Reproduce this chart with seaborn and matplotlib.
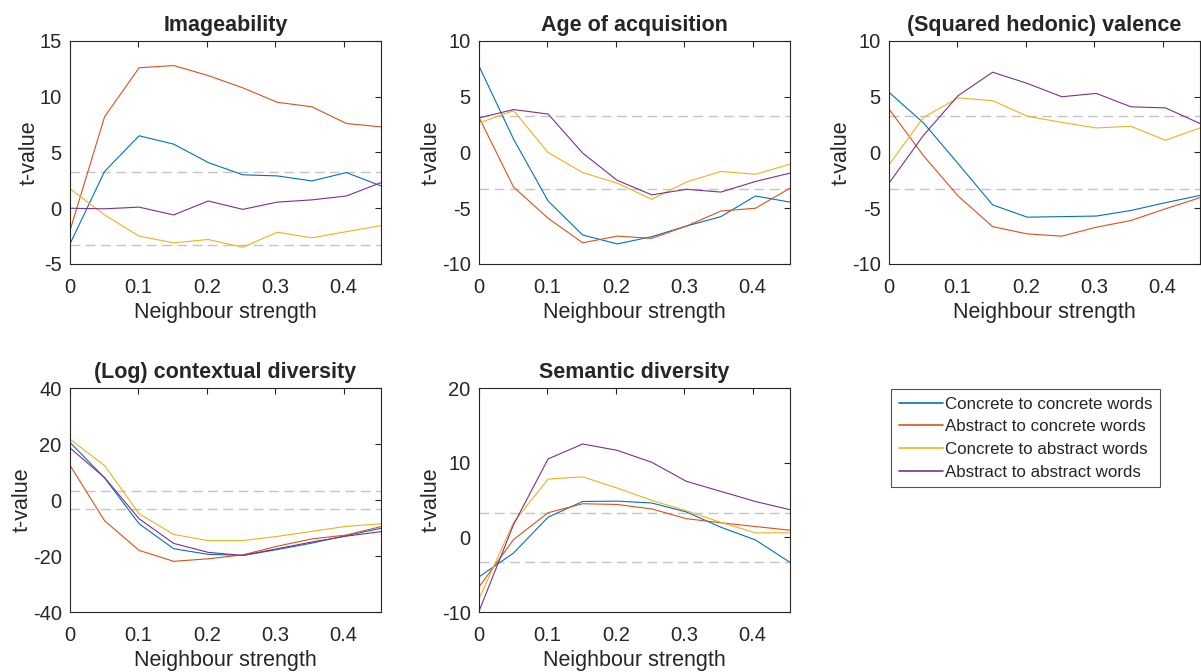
import numpy as np
import pandas as pd
import seaborn as sns
import matplotlib.pyplot as plt

# neighbour strength steps (10 points, last one at the right edge)
strength = np.arange(10) * 0.0505

series_names = ['Concrete to concrete words', 'Abstract to concrete words',
                'Concrete to abstract words', 'Abstract to abstract words']
colors = ['#0072BD', '#D95319', '#EDB120', '#7E2F8E']

imageability = {
    'Concrete to concrete words': [-3.2, 3.3, 6.5, 5.75, 4.1, 3.0, 2.9, 2.45, 3.2, 2.0],
    'Abstract to concrete words': [-2.0, 8.2, 12.6, 12.8, 11.9, 10.8, 9.5, 9.1, 7.6, 7.3],
    'Concrete to abstract words': [1.75, -0.6, -2.5, -3.1, -2.8, -3.5, -2.15, -2.65, -2.1, -1.55],
    'Abstract to abstract words': [0.0, -0.05, 0.1, -0.6, 0.65, -0.1, 0.55, 0.75, 1.1, 2.3],
}
age_of_acquisition = {
    'Concrete to concrete words': [7.75, 1.2, -4.35, -7.4, -8.2, -7.55, -6.6, -5.75, -3.9, -4.45],
    'Abstract to concrete words': [3.15, -3.1, -5.9, -8.1, -7.5, -7.7, -6.6, -5.25, -5.0, -3.2],
    'Concrete to abstract words': [2.65, 3.75, 0.0, -1.8, -2.75, -4.2, -2.65, -1.7, -1.95, -1.05],
    'Abstract to abstract words': [3.1, 3.85, 3.45, -0.05, -2.5, -3.8, -3.3, -3.55, -2.6, -1.85],
}
valence = {
    'Concrete to concrete words': [5.4, 2.65, -1.0, -4.7, -5.8, -5.75, -5.7, -5.2, -4.5, -3.85],
    'Abstract to concrete words': [3.9, -0.3, -3.9, -6.65, -7.3, -7.5, -6.7, -6.1, -5.05, -4.05],
    'Concrete to abstract words': [-1.1, 3.15, 4.9, 4.65, 3.25, 2.7, 2.2, 2.35, 1.1, 2.2],
    'Abstract to abstract words': [-2.75, 1.55, 5.1, 7.2, 6.2, 5.0, 5.3, 4.1, 4.0, 2.6],
}
contextual_diversity = {
    'Concrete to concrete words': [20.6, 7.9, -8.5, -17.4, -19.4, -19.8, -17.7, -15.4, -12.7, -10.1],
    'Abstract to concrete words': [12.4, -7.4, -18.0, -21.9, -21.0, -19.6, -16.5, -13.9, -12.5, -9.5],
    'Concrete to abstract words': [21.7, 12.3, -4.9, -12.3, -14.5, -14.5, -13.0, -11.2, -9.4, -8.5],
    'Abstract to abstract words': [18.6, 8.0, -6.7, -15.5, -18.7, -19.8, -17.4, -15.0, -12.9, -11.3],
}
semantic_diversity = {
    'Concrete to concrete words': [-5.3, -2.1, 2.7, 4.8, 4.85, 4.6, 3.4, 1.35, -0.35, -3.35],
    'Abstract to concrete words': [-6.65, -0.3, 3.3, 4.5, 4.4, 3.8, 2.5, 1.95, 1.45, 0.95],
    'Concrete to abstract words': [-8.25, 2.0, 7.8, 8.1, 6.6, 4.95, 3.55, 2.0, 0.6, 0.6],
    'Abstract to abstract words': [-9.9, 1.7, 10.5, 12.5, 11.65, 10.05, 7.5, 6.15, 4.8, 3.7],
}

panels = [
    ('Imageability', imageability, (-5, 15), [-5, 0, 5, 10, 15]),
    ('Age of acquisition', age_of_acquisition, (-10, 10), [-10, -5, 0, 5, 10]),
    ('(Squared hedonic) valence', valence, (-10, 10), [-10, -5, 0, 5, 10]),
    ('(Log) contextual diversity', contextual_diversity, (-40, 40), [-40, -20, 0, 20, 40]),
    ('Semantic diversity', semantic_diversity, (-10, 20), [-10, 0, 10, 20]),
]
threshold = 3.29

sns.set_style('white')
plt.rcParams['font.family'] = ['Liberation Sans', 'DejaVu Sans']
plt.rcParams['axes.unicode_minus'] = False
plt.rcParams['axes.edgecolor'] = '#262626'
plt.rcParams['xtick.color'] = '#262626'
plt.rcParams['ytick.color'] = '#262626'

fig = plt.figure(figsize=(12.01, 6.72), dpi=100)

W, H = 1201, 672
lefts = [70, 479, 889]
rows = [(41, 264), (388, 612)]

axes = []
for i, (title, values, ylim, yticks) in enumerate(panels):
    r, c = divmod(i, 3)
    top, bottom = rows[r]
    ax = fig.add_axes([lefts[c] / W, 1 - bottom / H, 311 / W, (bottom - top) / H])
    df = pd.DataFrame({
        'strength': np.tile(strength, len(series_names)),
        't': np.concatenate([values[s] for s in series_names]),
        'series': np.repeat(series_names, len(strength)),
    })
    ax.axhline(threshold, color='#c4c4c4', ls=(0, (7, 4)), lw=1, zorder=1)
    ax.axhline(-threshold, color='#c4c4c4', ls=(0, (7, 4)), lw=1, zorder=1)
    sns.lineplot(data=df, x='strength', y='t', hue='series', hue_order=series_names,
                 palette=colors, linewidth=0.8, legend=False, ax=ax, zorder=2)
    ax.set_xlim(0, strength[-1])
    ax.set_ylim(*ylim)
    ax.set_xticks([0, 0.1, 0.2, 0.3, 0.4])
    ax.set_xticklabels(['0', '0.1', '0.2', '0.3', '0.4'])
    ax.set_yticks(yticks)
    ax.tick_params(direction='in', top=True, right=True, length=4.5, width=0.8,
                   labelsize=14.5)
    ax.tick_params(axis='x', pad=10)
    ax.tick_params(axis='y', pad=6)
    for sp in ax.spines.values():
        sp.set_linewidth(0.8)
    ax.set_title(title, fontsize=15.5, fontweight='bold', pad=7)
    ax.set_xlabel('Neighbour strength', fontsize=15.5, color='#262626', labelpad=4)
    ax.set_ylabel('t-value', fontsize=15.5, color='#262626', labelpad=0)
    axes.append(ax)

handles = axes[0].get_lines()[2:6]
leg = fig.legend(handles, series_names, loc='upper left',
                 bbox_to_anchor=(891 / W, 1 - 389 / H), fontsize=12.2,
                 frameon=True, fancybox=False, edgecolor='#262626',
                 handlelength=2.6, handletextpad=0.15, borderpad=0.45,
                 labelspacing=0.45, borderaxespad=0)
leg.get_frame().set_linewidth(0.8)
for line in leg.get_lines():
    line.set_linewidth(1.2)

fig.savefig('out.png', dpi=100)
